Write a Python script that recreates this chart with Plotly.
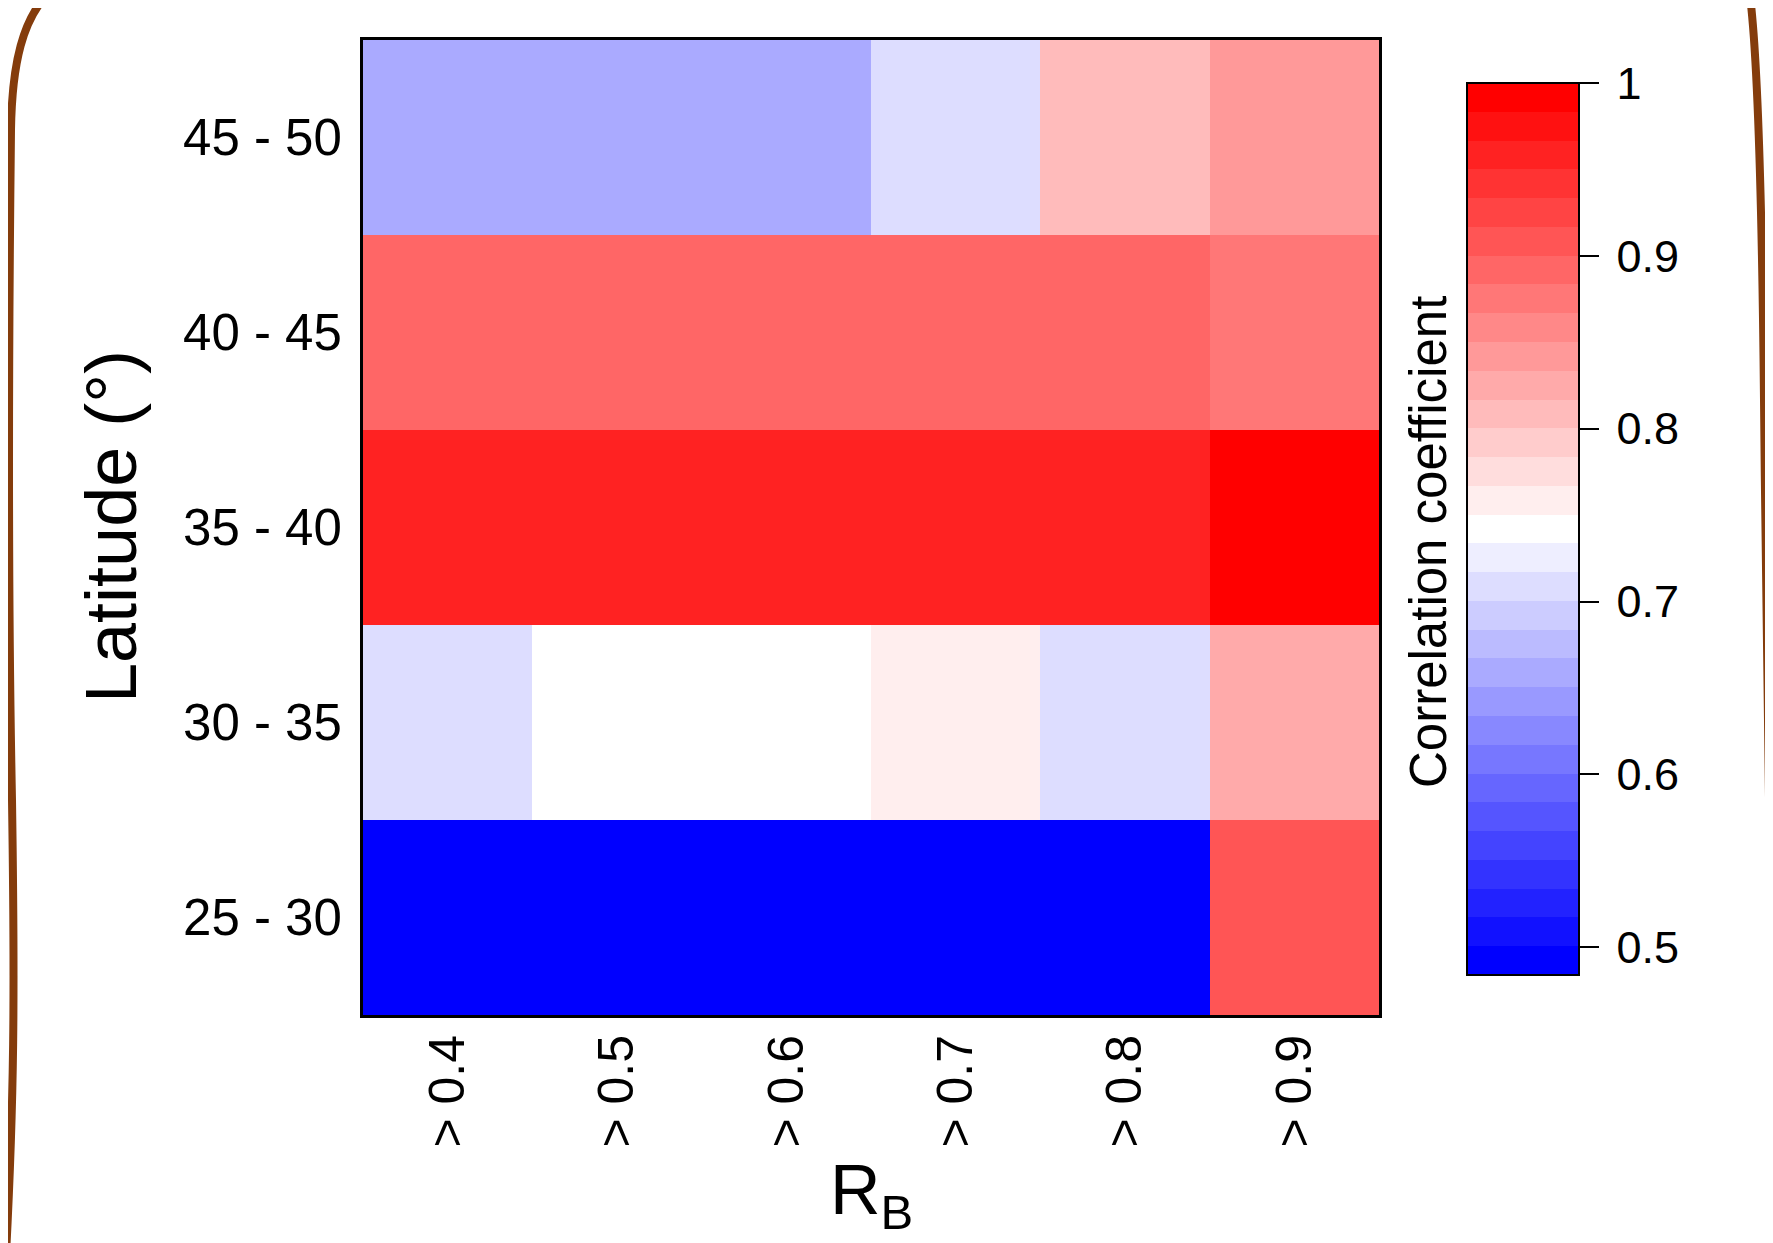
import plotly.graph_objects as go

# ---- data ----
latitude_bins = ["25 - 30", "30 - 35", "35 - 40", "40 - 45", "45 - 50"]
rb_thresholds = ["> 0.4", "> 0.5", "> 0.6", "> 0.7", "> 0.8", "> 0.9"]
corr_25_30 = [0.484, 0.484, 0.484, 0.484, 0.484, 0.909]
corr_30_35 = [0.709, 0.742, 0.742, 0.759, 0.709, 0.825]
corr_35_40 = [0.959, 0.959, 0.959, 0.959, 0.959, 1.000]
corr_40_45 = [0.892, 0.892, 0.892, 0.892, 0.892, 0.875]
corr_45_50 = [0.659, 0.659, 0.659, 0.709, 0.809, 0.842]
cbar_ticks = [0.5, 0.6, 0.7, 0.8, 0.9, 1.0]
cbar_ticktext = ["0.5", "0.6", "0.7", "0.8", "0.9", "1"]

z = [corr_25_30, corr_30_35, corr_35_40, corr_40_45, corr_45_50]
zmin, zmax = 0.484, 1.0

# ---- discrete blue-white-red palette (31 levels) ----
n = 31
half = (n - 1) // 2
cols = []
for k in range(n):
    if k <= half:
        v = round(255 * k / half)
        cols.append(f"rgb({v},{v},255)")
    else:
        v = round(255 * (n - 1 - k) / half)
        cols.append(f"rgb(255,{v},{v})")
cscale = []
for k, c in enumerate(cols):
    cscale.append([k / n, c])
    cscale.append([(k + 1) / n, c])

W, H = 1773, 1243
OFF = 8  # page body margin
# plot area in screen pixels
L, R, T, B = 363, 1379, 40, 1015


def px(x):
    return (x - L) / (R - L)


def py(y):
    return (B - y) / (B - T)


font_family = "Liberation Sans, Arial"
thin = "\u2009"

fig = go.Figure(go.Heatmap(
    z=z, x=rb_thresholds, y=latitude_bins,
    zmin=zmin, zmax=zmax, colorscale=cscale,
    colorbar=dict(
        x=px(1467), xanchor="left", xpad=0,
        y=py(529), yanchor="middle", ypad=0,
        len=892, lenmode="pixels", thickness=112, thicknessmode="pixels",
        outlinecolor="black", outlinewidth=2,
        tickvals=cbar_ticks, ticktext=[thin + t for t in cbar_ticktext],
        ticks="outside", ticklen=19, tickwidth=2, tickcolor="black",
        tickfont=dict(family=font_family, size=45, color="black"),
    ),
))


def seg(p):
    return f"{px(p[0]):.5f},{py(p[1]):.5f}"


left_path = ("M " + seg((46, -4)) + " C " + seg((24, 20)) + " " + seg((12, 60)) + " " + seg((11, 130)) +
             " C " + seg((8, 400)) + " " + seg((8, 600)) + " " + seg((12, 800)) +
             " C " + seg((15, 1000)) + " " + seg((14, 1100)) + " " + seg((6, 1255)))
right_path = ("M " + seg((1750, -4)) + " C " + seg((1758, 60)) + " " + seg((1762, 200)) + " " + seg((1764, 400)) +
              " C " + seg((1766, 600)) + " " + seg((1768, 750)) + " " + seg((1775, 1255)))

fig.update_layout(
    width=W, height=H,
    margin=dict(l=L - OFF, r=W - (R - OFF), t=T - OFF, b=H - (B - OFF)),
    paper_bgcolor="white", plot_bgcolor="white",
    font=dict(family=font_family, color="black"),
    xaxis=dict(showline=True, mirror=True, linecolor="black", linewidth=3,
               ticks="", tickangle=-90, ticklabelstandoff=-3,
               tickfont=dict(size=50, family=font_family, color="black"),
               showgrid=False, zeroline=False),
    yaxis=dict(showline=True, mirror=True, linecolor="black", linewidth=3,
               ticks="", ticklabelstandoff=8,
               tickfont=dict(size=51, family=font_family, color="black"),
               showgrid=False, zeroline=False),
    annotations=[
        dict(text="Latitude (°)", x=px(111), y=py(527), xref="paper", yref="paper",
             textangle=-90, showarrow=False, xanchor="center", yanchor="middle",
             font=dict(size=72, family=font_family, color="black")),
        dict(text="R<sub>B</sub>", x=px(871), y=py(1149), xref="paper", yref="paper",
             showarrow=False, xanchor="center", yanchor="top",
             font=dict(size=70, family=font_family, color="black")),
        dict(text="Correlation coefficient", x=px(1428), y=py(542), xref="paper", yref="paper",
             textangle=-90, showarrow=False, xanchor="center", yanchor="middle",
             font=dict(size=51, family=font_family, color="black")),
    ],
    shapes=[
        dict(type="path", path=left_path, xref="paper", yref="paper",
             line=dict(color="#843C0C", width=8), layer="above"),
        dict(type="path", path=right_path, xref="paper", yref="paper",
             line=dict(color="#843C0C", width=8), layer="above"),
    ],
)

fig.write_html("out.html")
